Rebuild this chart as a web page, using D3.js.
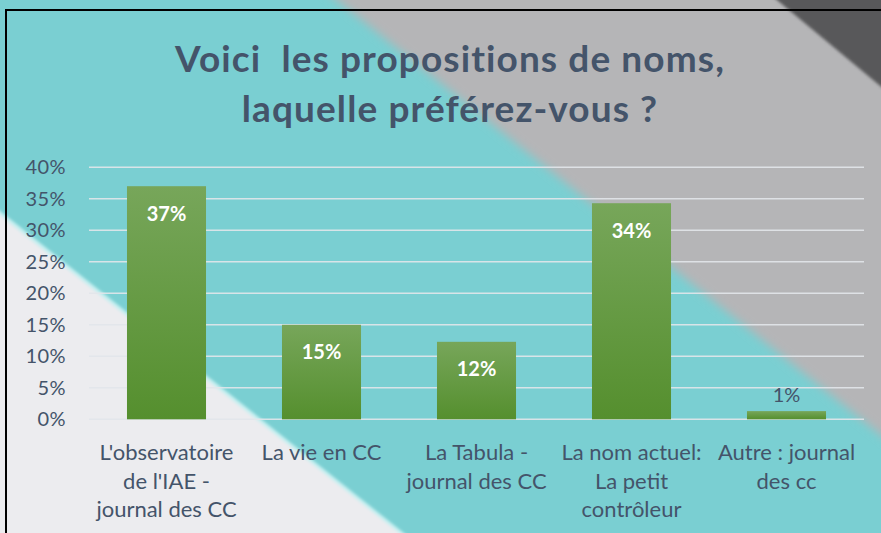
<!DOCTYPE html>
<html>
<head>
<meta charset="utf-8">
<script src="https://cdn.jsdelivr.net/npm/d3@7"></script>
<style>
  html, body { margin: 0; padding: 0; overflow: hidden; }
  body { width: 881px; height: 533px; }
  text { font-family: Lato, "Open Sans", sans-serif; }
</style>
</head>
<body>
<div id="chart"></div>
<script>
// data
const categories = [
    ["L'observatoire", "de l'IAE -", "journal des CC"],
    ["La vie en CC"],
    ["La Tabula -", "journal des CC"],
    ["La nom actuel:", "La petit", "contrôleur"],
    ["Autre : journal", "des cc"]
];
const values = [0.37, 0.15, 0.123, 0.343, 0.013];
const valueLabels = ["37%", "15%", "12%", "34%", "1%"];
const yTicks = [0, 0.05, 0.10, 0.15, 0.20, 0.25, 0.30, 0.35, 0.40];
const titleLines = ["Voici  les propositions de noms,", "laquelle préférez-vous ?"];

const W = 881, H = 533;
const textColor = "#44546a";

const svg = d3.select("#chart").append("svg")
    .attr("width", W)
    .attr("height", H);

const defs = svg.append("defs");
defs.append("filter").attr("id", "soft")
    .attr("x", "-5%").attr("y", "-5%").attr("width", "110%").attr("height", "110%")
    .append("feGaussianBlur").attr("stdDeviation", 1.5);
defs.append("filter").attr("id", "softer")
    .attr("x", "-10%").attr("y", "-10%").attr("width", "120%").attr("height", "120%")
    .append("feGaussianBlur").attr("stdDeviation", 5);

const grad = defs.append("linearGradient")
    .attr("id", "barGrad")
    .attr("x1", 0).attr("y1", 0).attr("x2", 0).attr("y2", 1);
grad.append("stop").attr("offset", "0%").attr("stop-color", "#77a65a");
grad.append("stop").attr("offset", "100%").attr("stop-color", "#558f2e");

// background: teal slide with grey diagonal bands
const bg = svg.append("g");
bg.append("rect").attr("x", -10).attr("y", -10).attr("width", W + 20).attr("height", H + 20)
    .attr("fill", "#7acfd2");
// edge runs through (337,0) and (881,435)
bg.append("polygon")
    .attr("filter", "url(#softer)")
    .attr("points", `299,-30 ${W + 40},-30 ${W + 40},467`)
    .attr("fill", "#b5b5b7");
bg.append("polygon")
    .attr("filter", "url(#soft)")
    .attr("points", `765,-10 ${W + 10},-10 ${W + 10},95`)
    .attr("fill", "#58585a");
const lower = bg.append("g").attr("filter", "url(#soft)");
lower.append("polygon")
    .attr("points", `-10,207 412,${H + 10} -10,${H + 10}`)
    .attr("fill", "#ececef");
lower.append("line")
    .attr("x1", -10).attr("y1", 205).attr("x2", 414).attr("y2", H + 10)
    .attr("stroke", "#c9f1f2").attr("stroke-width", 3);

// frame
svg.append("path")
    .attr("d", `M${W + 5},10 H6 V${H + 5}`)
    .attr("fill", "none")
    .attr("stroke", "#000")
    .attr("stroke-width", 2);

const plot = { left: 89, right: 864, top: 167.3, bottom: 419.3 };

const x = d3.scaleBand()
    .domain(d3.range(categories.length))
    .range([plot.left, plot.right])
    .paddingInner(0.49)
    .paddingOuter(0.245);

const y = d3.scaleLinear()
    .domain([0, 0.4])
    .range([plot.bottom, plot.top]);

// gridlines
svg.append("g")
    .selectAll("line")
    .data(yTicks)
    .join("line")
    .attr("x1", plot.left)
    .attr("x2", plot.right)
    .attr("y1", d => y(d))
    .attr("y2", d => y(d))
    .attr("stroke", "#e2e6ea")
    .attr("stroke-opacity", 0.9)
    .attr("stroke-width", 1.6);

// y axis labels
const yAxis = svg.append("g")
    .attr("transform", `translate(${plot.left},0)`)
    .call(d3.axisLeft(y).tickValues(yTicks).tickFormat(d3.format(".0%")).tickSize(0).tickPadding(23));
yAxis.select(".domain").remove();
yAxis.selectAll("text")
    .attr("fill", textColor)
    .attr("font-size", 20)
    .attr("letter-spacing", 0.4)
    .style("font-family", "Lato, sans-serif");

// bars
svg.append("g")
    .selectAll("rect")
    .data(values)
    .join("rect")
    .attr("x", (d, i) => x(i))
    .attr("y", d => y(d))
    .attr("width", x.bandwidth())
    .attr("height", d => y(0) - y(d))
    .attr("fill", "url(#barGrad)");

// value labels (inside tall bars, above the short one)
const inside = d => y(0) - y(d) > 40;
svg.append("g")
    .selectAll("text")
    .data(values)
    .join("text")
    .attr("x", (d, i) => x(i) + x.bandwidth() / 2)
    .attr("y", d => (inside(d) ? y(d) + 34.5 : y(d) - 9))
    .attr("text-anchor", "middle")
    .attr("font-size", 20)
    .attr("font-weight", d => (inside(d) ? "bold" : "normal"))
    .attr("fill", d => (inside(d) ? "#fff" : textColor))
    .text((d, i) => valueLabels[i]);

// category labels
const xAxis = svg.append("g")
    .attr("transform", `translate(0,${plot.bottom})`)
    .call(d3.axisBottom(x).tickSize(0).tickFormat(""));
xAxis.select(".domain").remove();
xAxis.selectAll(".tick text").remove();
xAxis.selectAll(".tick")
    .append("text")
    .attr("fill", textColor)
    .attr("font-size", 22)
    .attr("text-anchor", "middle")
    .selectAll("tspan")
    .data(i => categories[i])
    .join("tspan")
    .attr("x", 0)
    .attr("y", (d, j) => 41 + j * 28.5)
    .text(d => d);

// title
svg.append("g")
    .selectAll("text")
    .data(titleLines)
    .join("text")
    .attr("x", 450)
    .attr("y", (d, i) => 72 + i * 50)
    .attr("text-anchor", "middle")
    .attr("font-size", 37)
    .attr("font-weight", "bold")
    .attr("letter-spacing", 1.1)
    .attr("fill", textColor)
    .style("white-space", "pre")
    .text(d => d);
</script>
</body>
</html>
